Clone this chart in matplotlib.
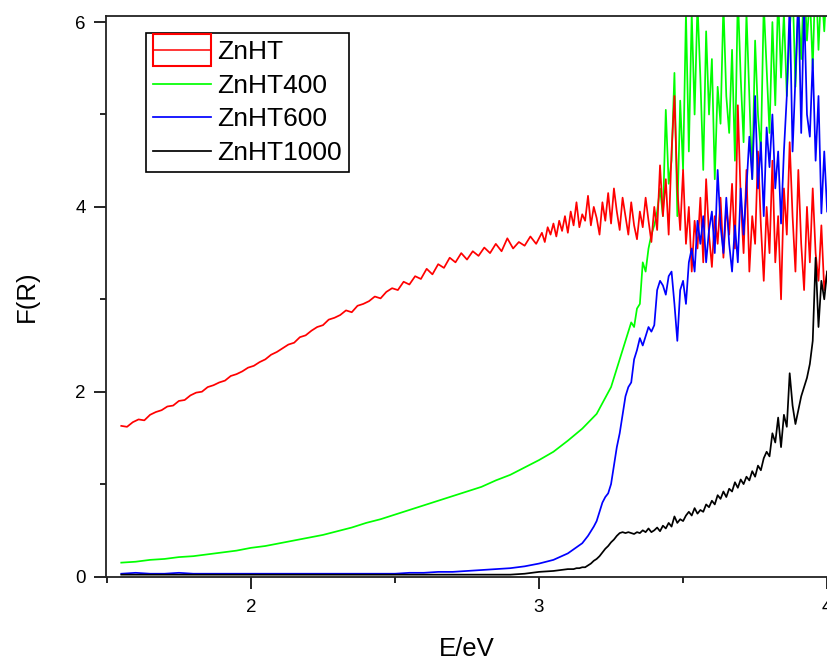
import numpy as np
import matplotlib
matplotlib.use("Agg")
import matplotlib.pyplot as plt
from matplotlib.legend_handler import HandlerBase
from matplotlib.patches import Rectangle
from matplotlib.lines import Line2D
from matplotlib.ticker import MultipleLocator

plt.rcParams['font.family'] = ['Liberation Sans', 'DejaVu Sans']

# ---------------- data ----------------
labels = ["ZnHT", "ZnHT400", "ZnHT600", "ZnHT1000"]
colors = ["#ff0000", "#00ff00", "#0000ff", "#000000"]

# ZnHT (red): 1.55-2.99 eV (step 0.02) and 3.00-4.00 eV (step 0.01)
red_lo = [1.63, 1.62, 1.67, 1.70, 1.69, 1.75, 1.78, 1.80, 1.84, 1.85,
          1.90, 1.91, 1.96, 1.99, 2.00, 2.05, 2.07, 2.10, 2.12, 2.17,
          2.19, 2.22, 2.26, 2.28, 2.32, 2.35, 2.40, 2.43, 2.47, 2.51,
          2.53, 2.59, 2.61, 2.66, 2.70, 2.72, 2.78, 2.80, 2.83, 2.88,
          2.86, 2.93, 2.95, 2.98, 3.03, 3.01, 3.08, 3.12, 3.10, 3.19,
          3.16, 3.25, 3.22, 3.33, 3.27, 3.38, 3.34, 3.45, 3.40, 3.50,
          3.43, 3.52, 3.47, 3.56, 3.50, 3.60, 3.52, 3.66, 3.55, 3.62,
          3.58, 3.68, 3.60]
red_hi = [3.66, 3.72, 3.62, 3.78, 3.70, 3.82, 3.68, 3.85, 3.74, 3.90,
          3.72, 3.95, 3.80, 4.05, 3.78, 3.92, 3.85, 4.12, 3.80, 4.00,
          3.88, 3.70, 4.05, 3.85, 4.15, 3.82, 4.20, 3.95, 3.75, 4.10,
          3.90, 3.70, 4.05, 3.80, 3.65, 3.95, 3.78, 4.10, 3.85, 3.62,
          4.00, 3.75, 4.45, 3.90, 4.30, 3.70, 4.60, 5.20, 4.20, 3.75,
          4.40, 3.60, 4.00, 3.30, 3.85, 3.55, 4.10, 3.40, 4.30, 3.70,
          3.35, 3.90, 3.60, 4.10, 3.45, 4.00, 3.70, 4.25, 3.55, 5.10,
          4.10, 3.50, 4.40, 3.30, 3.90, 3.60, 4.60, 3.80, 3.20, 4.00,
          3.50, 4.50, 3.40, 3.90, 3.00, 4.20, 3.70, 4.70, 3.90, 3.30,
          4.40, 3.60, 3.10, 4.00, 3.40, 4.20, 3.50, 3.20, 3.80, 3.10,
          3.30]

# ZnHT400 (green): 1.55-3.30 eV (step 0.05) and 3.31-4.00 eV (step 0.01)
green_lo = [0.15, 0.16, 0.18, 0.19, 0.21, 0.22, 0.24, 0.26, 0.28, 0.31,
            0.33, 0.36, 0.39, 0.42, 0.45, 0.49, 0.53, 0.58, 0.62, 0.67,
            0.72, 0.77, 0.82, 0.87, 0.92, 0.97, 1.04, 1.10, 1.18, 1.26,
            1.35, 1.47, 1.60, 1.76, 2.05, 2.55]
green_hi = [2.65, 2.75, 2.70, 2.90, 2.95, 3.40, 3.30, 3.55, 3.70, 3.80,
            3.95, 4.20, 3.90, 5.05, 4.25, 4.50, 5.45, 3.90, 5.15, 4.40,
            6.10, 4.60, 6.10, 5.00, 6.20, 5.40, 4.40, 5.90, 5.00, 5.60,
            4.30, 5.30, 4.90, 6.20, 5.20, 4.80, 5.70, 4.50, 6.30, 5.40,
            4.70, 6.10, 5.20, 4.30, 5.80, 5.00, 4.60, 6.20, 5.50, 4.80,
            6.00, 5.10, 6.30, 5.40, 6.10, 5.20, 5.90, 6.40, 5.30, 6.20,
            5.60, 6.50, 5.80, 6.30, 5.50, 6.60, 5.70, 6.40, 5.90, 6.50]

# ZnHT600 (blue): 1.55-3.15 eV (step 0.05) and 3.16-4.00 eV (step 0.01)
blue_lo = [0.03, 0.04, 0.03, 0.03, 0.04, 0.03, 0.03, 0.03, 0.03, 0.03,
           0.03, 0.03, 0.03, 0.03, 0.03, 0.03, 0.03, 0.03, 0.03, 0.03,
           0.04, 0.04, 0.05, 0.05, 0.06, 0.07, 0.08, 0.09, 0.11, 0.14,
           0.18, 0.25, 0.36]
blue_hi = [0.40, 0.44, 0.49, 0.54, 0.60, 0.70, 0.80, 0.86, 0.90, 1.00,
           1.20, 1.40, 1.55, 1.75, 1.95, 2.05, 2.10, 2.35, 2.45, 2.58,
           2.50, 2.60, 2.70, 2.65, 2.72, 3.10, 3.20, 3.15, 3.05, 3.25,
           3.30, 2.95, 2.55, 3.10, 3.20, 2.95, 3.40, 3.55, 3.30, 3.85,
           3.60, 3.90, 3.40, 3.75, 3.95, 3.50, 4.40, 3.80, 3.50, 4.10,
           3.60, 3.30, 3.80, 3.40, 4.20, 3.70, 4.20, 4.76, 4.30, 5.20,
           4.20, 4.70, 3.90, 4.86, 4.43, 5.00, 4.20, 4.60, 3.82, 4.60,
           5.20, 6.20, 4.60, 5.40, 6.30, 4.80, 6.20, 5.00, 4.76, 5.60,
           4.50, 5.20, 3.93, 4.60, 3.95]

# ZnHT1000 (black): 1.55-3.10 eV (step 0.05) and 3.11-4.00 eV (step 0.01)
black_lo = [0.02, 0.02, 0.02, 0.02, 0.02, 0.02, 0.02, 0.02, 0.02, 0.02,
            0.02, 0.02, 0.02, 0.02, 0.02, 0.02, 0.02, 0.02, 0.02, 0.02,
            0.02, 0.02, 0.02, 0.02, 0.02, 0.02, 0.02, 0.02, 0.03, 0.05,
            0.06, 0.08]
black_hi = [0.08, 0.08, 0.09, 0.09, 0.10, 0.10, 0.12, 0.14, 0.17, 0.19,
            0.22, 0.26, 0.30, 0.33, 0.37, 0.40, 0.44, 0.47, 0.48, 0.47,
            0.48, 0.47, 0.46, 0.48, 0.47, 0.50, 0.48, 0.52, 0.48, 0.50,
            0.53, 0.49, 0.55, 0.52, 0.58, 0.54, 0.65, 0.58, 0.62, 0.60,
            0.66, 0.70, 0.66, 0.74, 0.68, 0.72, 0.70, 0.78, 0.75, 0.82,
            0.78, 0.88, 0.84, 0.92, 0.86, 0.95, 0.92, 1.02, 0.96, 1.05,
            1.00, 1.08, 1.04, 1.14, 1.08, 1.20, 1.15, 1.28, 1.35, 1.30,
            1.55, 1.45, 1.72, 1.40, 1.75, 1.62, 2.20, 1.85, 1.65, 1.80,
            1.95, 2.05, 2.15, 2.30, 2.55, 3.45, 2.70, 3.20, 3.00, 3.30]

x_ticks = [2, 3, 4]
y_ticks = [0, 2, 4, 6]


def series(lo, lo_rng, hi, hi_rng):
    x = np.concatenate([np.linspace(lo_rng[0], lo_rng[1], len(lo)),
                        np.linspace(hi_rng[0], hi_rng[1], len(hi))])
    y = np.concatenate([lo, hi])
    return x, y


x_r, y_r = series(red_lo, (1.55, 2.99), red_hi, (3.00, 4.00))
x_g, y_g = series(green_lo, (1.55, 3.30), green_hi, (3.31, 4.00))
x_b, y_b = series(blue_lo, (1.55, 3.15), blue_hi, (3.16, 4.00))
x_k, y_k = series(black_lo, (1.55, 3.10), black_hi, (3.11, 4.00))

# ---------------- figure ----------------
fig = plt.figure(figsize=(8.28, 6.64), dpi=100)
ax = fig.add_axes([106 / 828, 1 - 576.5 / 664, 722 / 828, 560.5 / 664])

lw = 1.25
lg, = ax.plot(x_g, y_g, color=colors[1], lw=lw)
lr, = ax.plot(x_r, y_r, color=colors[0], lw=lw)
lb, = ax.plot(x_b, y_b, color=colors[2], lw=lw)
lk, = ax.plot(x_k, y_k, color=colors[3], lw=lw)

ax.set_xlim(1.497, 4.003)
ax.set_ylim(0, 6.066)
ax.set_xticks(x_ticks)
ax.set_yticks(y_ticks)
ax.xaxis.set_minor_locator(MultipleLocator(0.5))
ax.yaxis.set_minor_locator(MultipleLocator(1))
ax.tick_params(which='major', direction='out', length=8.5, width=1.2,
               labelsize=13.5)
ax.tick_params(which='minor', direction='out', length=4.3, width=1.2)
ax.tick_params(axis='y', which='major', pad=6)
ax.tick_params(axis='x', which='major', pad=8)
ax.tick_params(top=False, right=False, which='both')

for s in ['left', 'bottom', 'top']:
    ax.spines[s].set_linewidth(1.3)
    ax.spines[s].set_color('#222222')
ax.spines['right'].set_visible(False)

ax.set_xlabel('E/eV', fontsize=18.5)
ax.set_ylabel('F(R)', fontsize=18.5)
ax.xaxis.set_label_coords(0.5, -0.108)
ax.yaxis.set_label_coords(-0.093, 0.5)


class BoxLineHandler(HandlerBase):
    def create_artists(self, legend, orig_handle, xdescent, ydescent,
                       width, height, fontsize, trans):
        bh = 23.0
        yc = height / 2 - ydescent
        rect = Rectangle((-xdescent, yc - bh / 2), width, bh,
                         facecolor='none', edgecolor=orig_handle.get_color(),
                         lw=1.5, transform=trans)
        line = Line2D([-xdescent, -xdescent + width], [yc, yc],
                      color=orig_handle.get_color(), lw=1.1, transform=trans)
        return [rect, line]


leg = ax.legend([lr, lg, lb, lk], labels, loc='upper left',
                bbox_to_anchor=((146 - 106) / 722, (576.5 - 33) / 560.5),
                borderaxespad=0, fontsize=19, handlelength=2.2,
                handletextpad=0.2, labelspacing=0.36, borderpad=0.28,
                fancybox=False, framealpha=1, edgecolor='black',
                handler_map={lr: BoxLineHandler()})
leg.get_frame().set_linewidth(1.2)

fig.savefig('out.png', dpi=100)
